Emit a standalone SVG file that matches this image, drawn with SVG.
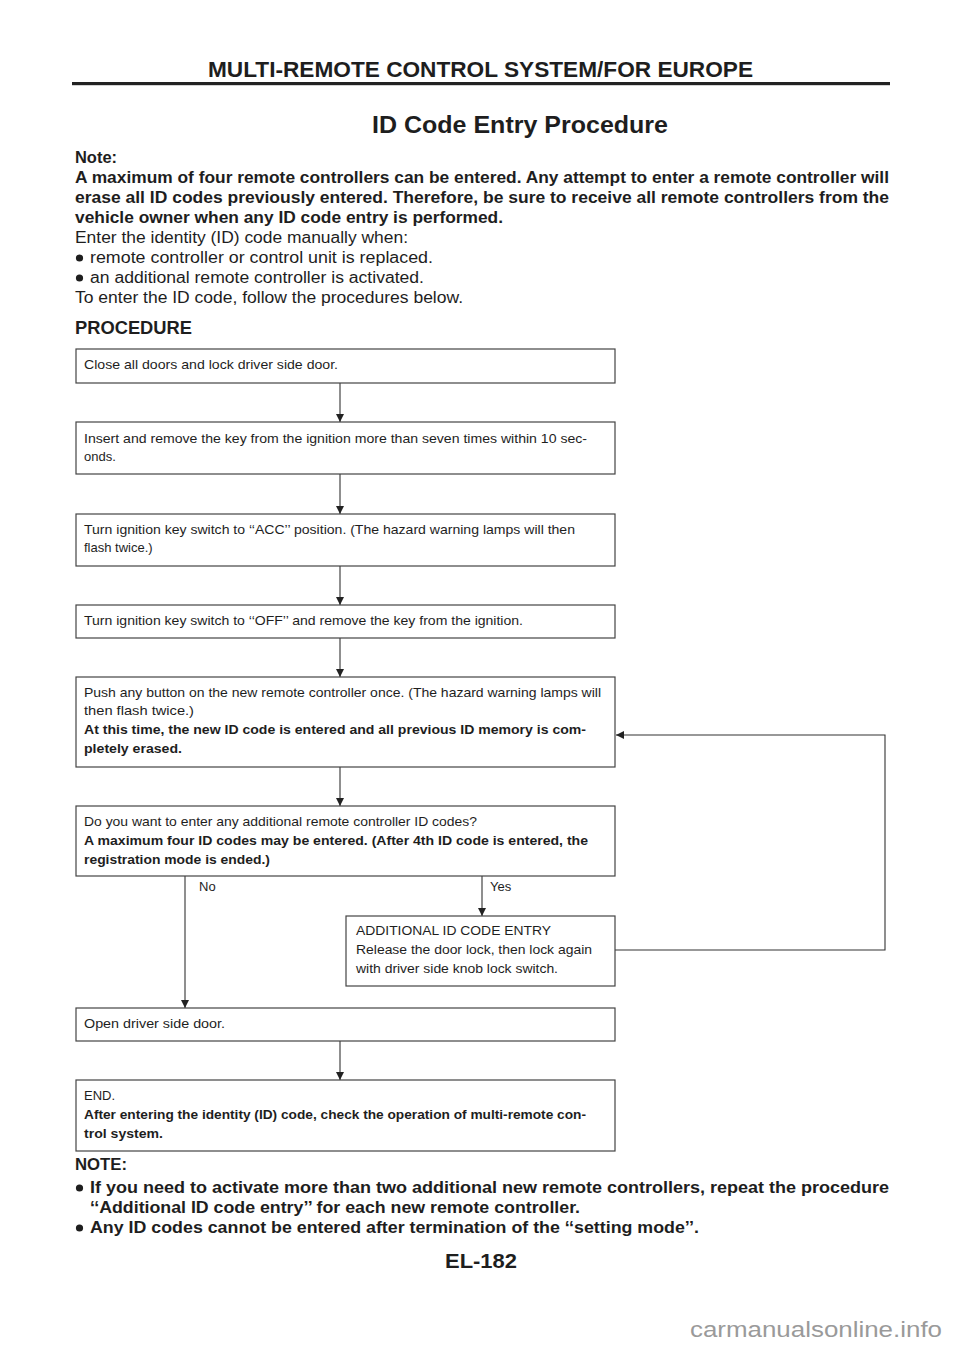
<svg xmlns="http://www.w3.org/2000/svg" width="960" height="1358" viewBox="0 0 960 1358">
<defs>
<marker id="ah" viewBox="0 0 8 10" refX="8" refY="5" markerWidth="8" markerHeight="10" markerUnits="userSpaceOnUse" orient="auto">
<path d="M0,1 L8,5 L0,9 Z" fill="#222"/>
</marker>
<style>
text{font-family:"Liberation Sans",Arial,sans-serif;fill:#1e1e1e}
.h{font-size:22px;font-weight:bold}
.t{font-size:24px;font-weight:bold}
.p{font-size:16px}
.pb{font-size:16px;font-weight:bold}
.b{font-size:13px}
.bb{font-size:13px;font-weight:bold}
.box{fill:#fff;stroke:#444;stroke-width:1.2}
.ln{fill:none;stroke:#333;stroke-width:1.1}
.wm{font-size:22px;fill:#9a9a9a}
</style>
</defs>
<rect width="960" height="1358" fill="#fff"/>

<g id="header">
<text class="h" x="208" y="77" textLength="545" lengthAdjust="spacingAndGlyphs">MULTI-REMOTE CONTROL SYSTEM/FOR EUROPE</text>
<rect x="72" y="82" width="818" height="3.2" fill="#222"/>
<text class="t" x="372" y="133" textLength="296" lengthAdjust="spacingAndGlyphs">ID Code Entry Procedure</text>
</g>

<g id="intro">
<text class="pb" x="75" y="163" textLength="42" lengthAdjust="spacingAndGlyphs">Note:</text>
<text class="pb" x="75" y="183" textLength="814" lengthAdjust="spacingAndGlyphs">A maximum of four remote controllers can be entered. Any attempt to enter a remote controller will</text>
<text class="pb" x="75" y="203" textLength="814" lengthAdjust="spacingAndGlyphs">erase all ID codes previously entered. Therefore, be sure to receive all remote controllers from the</text>
<text class="pb" x="75" y="223" textLength="428" lengthAdjust="spacingAndGlyphs">vehicle owner when any ID code entry is performed.</text>
<text class="p" x="75" y="243" textLength="333" lengthAdjust="spacingAndGlyphs">Enter the identity (ID) code manually when:</text>
<circle cx="79.5" cy="258" r="3.6" fill="#1e1e1e"/>
<text class="p" x="90" y="263" textLength="343" lengthAdjust="spacingAndGlyphs">remote controller or control unit is replaced.</text>
<circle cx="79.5" cy="278" r="3.6" fill="#1e1e1e"/>
<text class="p" x="90" y="283" textLength="334" lengthAdjust="spacingAndGlyphs">an additional remote controller is activated.</text>
<text class="p" x="75" y="303" textLength="388" lengthAdjust="spacingAndGlyphs">To enter the ID code, follow the procedures below.</text>
<text class="pb" x="75" y="334" style="font-size:18px" textLength="117" lengthAdjust="spacingAndGlyphs">PROCEDURE</text>
</g>

<g id="connectors">
<line class="ln" x1="340" y1="383" x2="340" y2="422" marker-end="url(#ah)"/>
<line class="ln" x1="340" y1="474" x2="340" y2="514" marker-end="url(#ah)"/>
<line class="ln" x1="340" y1="566" x2="340" y2="605" marker-end="url(#ah)"/>
<line class="ln" x1="340" y1="638" x2="340" y2="677" marker-end="url(#ah)"/>
<line class="ln" x1="340" y1="767" x2="340" y2="806" marker-end="url(#ah)"/>
<line class="ln" x1="482" y1="876" x2="482" y2="916" marker-end="url(#ah)"/>
<line class="ln" x1="185" y1="876" x2="185" y2="1008" marker-end="url(#ah)"/>
<polyline class="ln" points="615,950 885,950 885,735 616,735" marker-end="url(#ah)"/>
<line class="ln" x1="340" y1="1041" x2="340" y2="1080" marker-end="url(#ah)"/>
<text class="b" x="199" y="891">No</text>
<text class="b" x="490" y="891">Yes</text>
</g>

<g id="n1">
<rect class="box" x="76" y="349" width="539" height="34"/>
<text class="b" x="84" y="369" textLength="254" lengthAdjust="spacingAndGlyphs">Close all doors and lock driver side door.</text>
</g>
<g id="n2">
<rect class="box" x="76" y="422" width="539" height="52"/>
<text class="b" x="84" y="443" textLength="503" lengthAdjust="spacingAndGlyphs">Insert and remove the key from the ignition more than seven times within 10 sec-</text>
<text class="b" x="84" y="461">onds.</text>
</g>
<g id="n3">
<rect class="box" x="76" y="514" width="539" height="52"/>
<text class="b" x="84" y="534" textLength="491" lengthAdjust="spacingAndGlyphs">Turn ignition key switch to ‘‘ACC’’ position. (The hazard warning lamps will then</text>
<text class="b" x="84" y="552">flash twice.)</text>
</g>
<g id="n4">
<rect class="box" x="76" y="605" width="539" height="33"/>
<text class="b" x="84" y="625" textLength="439" lengthAdjust="spacingAndGlyphs">Turn ignition key switch to ‘‘OFF’’ and remove the key from the ignition.</text>
</g>
<g id="n5">
<rect class="box" x="76" y="677" width="539" height="90"/>
<text class="b" x="84" y="697" textLength="517" lengthAdjust="spacingAndGlyphs">Push any button on the new remote controller once. (The hazard warning lamps will</text>
<text class="b" x="84" y="715" textLength="110" lengthAdjust="spacingAndGlyphs">then flash twice.)</text>
<text class="bb" x="84" y="734" textLength="502" lengthAdjust="spacingAndGlyphs">At this time, the new ID code is entered and all previous ID memory is com-</text>
<text class="bb" x="84" y="753" textLength="98" lengthAdjust="spacingAndGlyphs">pletely erased.</text>
</g>
<g id="n6">
<rect class="box" x="76" y="806" width="539" height="70"/>
<text class="b" x="84" y="826" textLength="393" lengthAdjust="spacingAndGlyphs">Do you want to enter any additional remote controller ID codes?</text>
<text class="bb" x="84" y="845" textLength="504" lengthAdjust="spacingAndGlyphs">A maximum four ID codes may be entered. (After 4th ID code is entered, the</text>
<text class="bb" x="84" y="864" textLength="186" lengthAdjust="spacingAndGlyphs">registration mode is ended.)</text>
</g>
<g id="n7">
<rect class="box" x="346" y="916" width="269" height="70"/>
<text class="b" x="356" y="935" textLength="195" lengthAdjust="spacingAndGlyphs">ADDITIONAL ID CODE ENTRY</text>
<text class="b" x="356" y="954" textLength="236" lengthAdjust="spacingAndGlyphs">Release the door lock, then lock again</text>
<text class="b" x="356" y="973" textLength="202" lengthAdjust="spacingAndGlyphs">with driver side knob lock switch.</text>
</g>
<g id="n8">
<rect class="box" x="76" y="1008" width="539" height="33"/>
<text class="b" x="84" y="1028" textLength="141" lengthAdjust="spacingAndGlyphs">Open driver side door.</text>
</g>
<g id="n9">
<rect class="box" x="76" y="1080" width="539" height="71"/>
<text class="b" x="84" y="1100">END.</text>
<text class="bb" x="84" y="1119" textLength="502" lengthAdjust="spacingAndGlyphs">After entering the identity (ID) code, check the operation of multi-remote con-</text>
<text class="bb" x="84" y="1138" textLength="79" lengthAdjust="spacingAndGlyphs">trol system.</text>
</g>

<g id="footer-notes">
<text class="pb" x="75" y="1170" textLength="52" lengthAdjust="spacingAndGlyphs">NOTE:</text>
<circle cx="79.5" cy="1188" r="3.6" fill="#1e1e1e"/>
<text class="pb" x="90" y="1193" textLength="799" lengthAdjust="spacingAndGlyphs">If you need to activate more than two additional new remote controllers, repeat the procedure</text>
<text class="pb" x="90" y="1213" textLength="490" lengthAdjust="spacingAndGlyphs">‘‘Additional ID code entry’’ for each new remote controller.</text>
<circle cx="79.5" cy="1228" r="3.6" fill="#1e1e1e"/>
<text class="pb" x="90" y="1233" textLength="609" lengthAdjust="spacingAndGlyphs">Any ID codes cannot be entered after termination of the ‘‘setting mode’’.</text>
<text class="h" x="445" y="1268" style="font-size:21px" textLength="72" lengthAdjust="spacingAndGlyphs">EL-182</text>
<text class="wm" x="690" y="1337" textLength="252" lengthAdjust="spacingAndGlyphs">carmanualsonline.info</text>
</g>
</svg>
